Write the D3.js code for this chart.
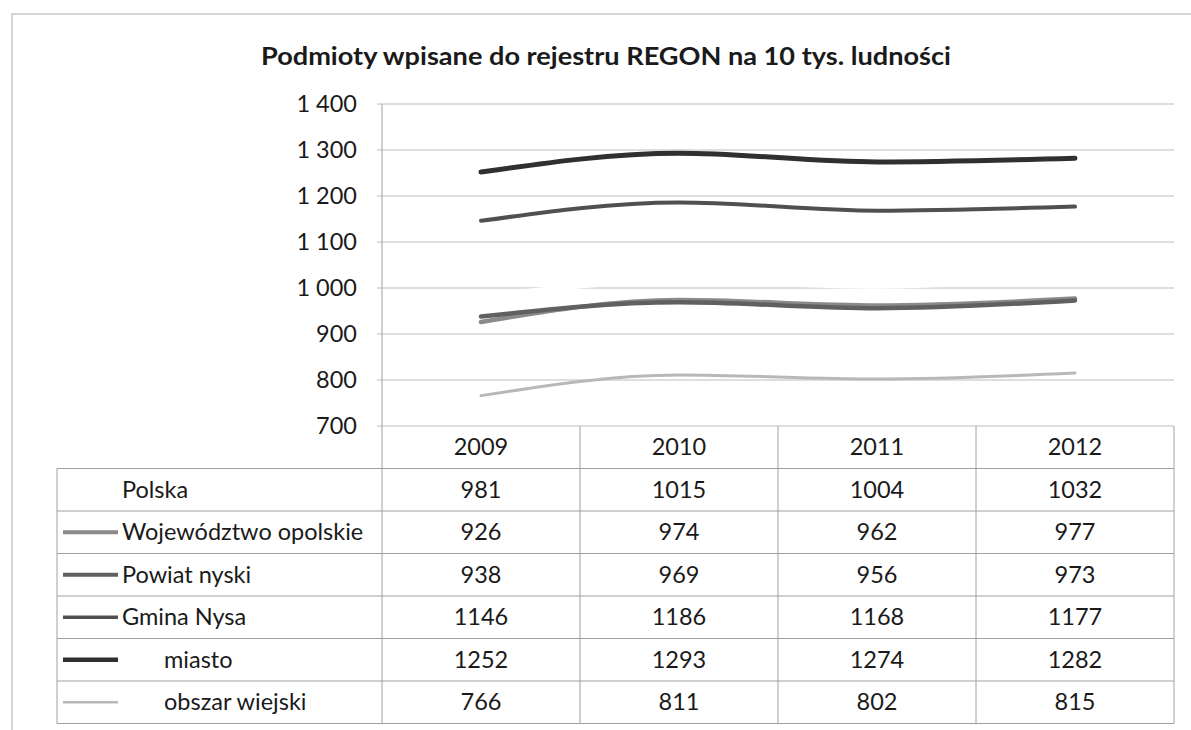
<!DOCTYPE html>
<html lang="pl">
<head>
<meta charset="UTF-8"/>
<title>REGON</title>
<script src="https://d3js.org/d3.v7.min.js"></script>
<style>
  body { margin: 0; background: #fff; }
  text { font-family: Lato, "Open Sans", sans-serif; fill: #1a1a1a; }
</style>
</head>
<body>
<div id="chart"></div>
<script>
// data
var years = ["2009", "2010", "2011", "2012"];
var seriesNames = ["Polska", "Województwo opolskie", "Powiat nyski", "Gmina Nysa", "miasto", "obszar wiejski"];
var polska = [981, 1015, 1004, 1032];
var wojewodztwo = [926, 974, 962, 977];
var powiat = [938, 969, 956, 973];
var gmina = [1146, 1186, 1168, 1177];
var miasto = [1252, 1293, 1274, 1282];
var wiejski = [766, 811, 802, 815];
var yTicks = [700, 800, 900, 1000, 1100, 1200, 1300, 1400];

var values = [polska, wojewodztwo, powiat, gmina, miasto, wiejski];
var colors = ["#ffffff", "#8a8a8a", "#606060", "#505050", "#303030", "#b8b8b8"];
var widths = [5, 4.5, 4.5, 4, 5, 3];
var indent = [0, 0, 0, 0, 1, 1];

var W = 1191, H = 730;
var plot = {left: 382, right: 1174, top: 104, bottom: 426};
var tableLeft = 57, rowH = 42.5;
var fs = "23.5px";

var svg = d3.select("#chart").append("svg")
  .attr("width", W).attr("height", H);

// outer frame
svg.append("path")
  .attr("d", "M12,730 V14 H1191")
  .attr("fill", "none").attr("stroke", "#c8c8c8").attr("stroke-width", 1.5);

var x = d3.scaleBand().domain(years).range([plot.left, plot.right]);
var y = d3.scaleLinear().domain([700, 1400]).range([plot.bottom, plot.top]);

var pl = d3.formatLocale({decimal: ",", thousands: " ", grouping: [3], currency: ["", " zł"]});
var fmt = pl.format(",d");

// title
svg.append("text")
  .attr("x", 606).attr("y", 65)
  .attr("text-anchor", "middle")
  .style("font-size", "24px").style("font-weight", "bold")
  .attr("textLength", 690).attr("lengthAdjust", "spacingAndGlyphs")
  .text("Podmioty wpisane do rejestru REGON na 10 tys. ludności");

// gridlines
svg.append("g").selectAll("line")
  .data(yTicks).enter().append("line")
    .attr("x1", plot.left - 5).attr("x2", plot.right)
    .attr("y1", function(d) { return y(d); })
    .attr("y2", function(d) { return y(d); })
    .attr("stroke", "#bdbdbd").attr("stroke-width", 1);

// y tick labels
svg.append("g").selectAll("text")
  .data(yTicks).enter().append("text")
    .attr("x", 357)
    .attr("y", function(d) { return y(d); })
    .attr("dy", "0.35em")
    .attr("text-anchor", "end")
    .style("font-size", fs)
    .text(function(d) { return fmt(d); });

// table
var tableTop = plot.bottom;
var tableBottom = tableTop + rowH + seriesNames.length * rowH;
var tg = svg.append("g").attr("stroke", "#a0a0a0").attr("stroke-width", 1);

// vertical lines
tg.append("line").attr("x1", plot.left).attr("x2", plot.left)
  .attr("y1", plot.top).attr("y2", tableBottom);
years.forEach(function(yr) {
  var xx = x(yr) + x.bandwidth();
  tg.append("line").attr("x1", xx).attr("x2", xx)
    .attr("y1", tableTop).attr("y2", tableBottom);
});
tg.append("line").attr("x1", tableLeft).attr("x2", tableLeft)
  .attr("y1", tableTop + rowH).attr("y2", tableBottom);

// horizontal lines
for (var i = 0; i <= seriesNames.length; i++) {
  var yy = tableTop + rowH + i * rowH;
  tg.append("line").attr("x1", tableLeft).attr("x2", plot.right)
    .attr("y1", yy).attr("y2", yy);
}

// year headers
svg.append("g").selectAll("text")
  .data(years).enter().append("text")
    .attr("x", function(d) { return x(d) + x.bandwidth() / 2; })
    .attr("y", tableTop + rowH / 2)
    .attr("dy", "0.35em")
    .attr("text-anchor", "middle")
    .style("font-size", fs)
    .text(function(d) { return d; });

// rows
seriesNames.forEach(function(name, si) {
  var cy = tableTop + rowH + si * rowH + rowH / 2;
  svg.append("line")
    .attr("x1", 63).attr("x2", 118)
    .attr("y1", cy).attr("y2", cy)
    .attr("stroke", colors[si]).attr("stroke-width", widths[si] - 0.5);
  svg.append("text")
    .attr("x", indent[si] ? 164 : 122).attr("y", cy)
    .attr("dy", "0.35em")
    .style("font-size", fs)
    .text(name);
  svg.append("g").selectAll("text")
    .data(values[si]).enter().append("text")
      .attr("x", function(d, j) { return x(years[j]) + x.bandwidth() / 2; })
      .attr("y", cy)
      .attr("dy", "0.35em")
      .attr("text-anchor", "middle")
      .style("font-size", fs)
      .text(function(d) { return d; });
});

// lines
var line = d3.line()
  .x(function(d, j) { return x(years[j]) + x.bandwidth() / 2; })
  .y(function(d) { return y(d); })
  .curve(d3.curveMonotoneX);

values.forEach(function(v, si) {
  svg.append("path")
    .datum(v)
    .attr("d", line)
    .attr("fill", "none")
    .attr("stroke", colors[si])
    .attr("stroke-width", widths[si])
    .attr("stroke-linecap", "round");
});
</script>
</body>
</html>
